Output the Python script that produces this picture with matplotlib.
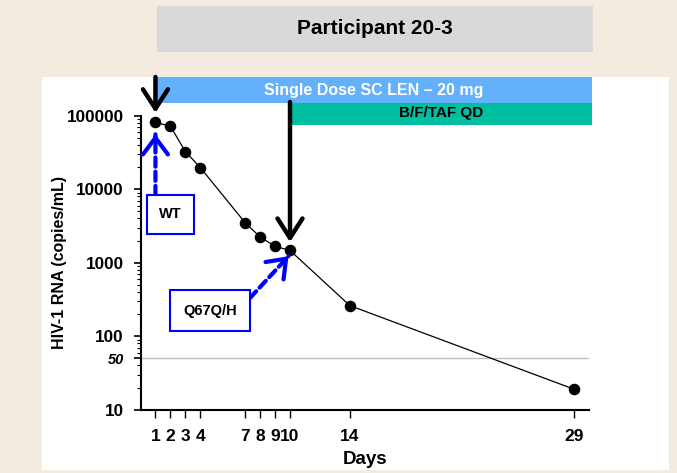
import matplotlib
matplotlib.use("Agg")
import matplotlib.pyplot as plt
import matplotlib.patches as mpatches
import matplotlib.transforms as mtrans
from matplotlib.ticker import LogLocator, NullFormatter

plt.rcParams['font.family'] = ['Liberation Sans', 'DejaVu Sans']

# ---- data ----
days = [1, 2, 3, 4, 7, 8, 9, 10, 14, 29]
rna = [81000, 72000, 32500, 19700, 3500, 2240, 1670, 1470, 261, 19]
xtick_days = [1, 2, 3, 4, 7, 8, 9, 10, 14, 29]
ytick_vals = [10, 50, 100, 1000, 10000, 100000]
ytick_labels = ['10', '50', '100', '1000', '10000', '100000']
title = "Participant 20-3"
band1_label = "Single Dose SC LEN \u2013 20 mg"
band2_label = "B/F/TAF QD"
lod = 50
wt_day, q67_day = 1, 10
lenj_day, bftaf_day = 1, 10

W, H = 677, 473
fig = plt.figure(figsize=(W / 100, H / 100), dpi=100)
fig.patch.set_facecolor('#F3EBDF')

def fx(px):
    return px / W

def fy(py):
    return 1 - py / H

# white panel
fig.patches.append(mpatches.Rectangle((fx(42), fy(470)), fx(669) - fx(42), fy(77) - fy(470),
                                      transform=fig.transFigure, facecolor='white', edgecolor='none', zorder=-2))
# title box
fig.patches.append(mpatches.Rectangle((fx(157), fy(52)), fx(593) - fx(157), fy(6) - fy(52),
                                      transform=fig.transFigure, facecolor='#D9D9D9', edgecolor='none', zorder=-2))
fig.text(fx(375), fy(29), title, ha='center', va='center', fontsize=15, fontweight='bold')

ax = fig.add_axes([fx(140.5), fy(409.7), fx(589) - fx(140.5), fy(115.7) - fy(409.7)])
ax.set_zorder(1)
ax.set_facecolor('none')
ax.set_yscale('log')
ax.set_xlim(0, 30)
ax.set_ylim(10, 100000)

for s in ['top', 'right']:
    ax.spines[s].set_visible(False)
for s in ['left', 'bottom']:
    ax.spines[s].set_linewidth(1.5)

# LOD line
ax.axhline(lod, color='#BFBFBF', lw=1, zorder=1)

ax.plot(days, rna, color='black', lw=0.9, marker='o', ms=7.3, zorder=3)

ax.set_xticks(xtick_days)
ax.set_xticklabels([str(d) for d in xtick_days], fontsize=12.5, fontweight='bold')
ax.set_yticks(ytick_vals)
ax.set_yticklabels(ytick_labels, fontsize=12.3, fontweight='bold')
for lbl in ax.get_yticklabels():
    if lbl.get_text() == '50':
        lbl.set_fontstyle('italic')
        lbl.set_fontsize(10.5)
ax.yaxis.set_minor_locator(LogLocator(base=10, subs=[2, 3, 4, 5, 6, 7, 8, 9]))
ax.yaxis.set_minor_formatter(NullFormatter())
ax.tick_params(axis='y', which='major', direction='out', length=5, width=1.2, pad=7)
ax.tick_params(axis='y', which='minor', direction='out', length=3, width=0.8)
ax.tick_params(axis='x', which='major', direction='out', length=6, width=1.0, pad=8)

ax.set_xlabel('Days', fontsize=13.5, fontweight='bold', labelpad=5)
ax.set_ylabel('HIV-1 RNA (copies/mL)', fontsize=11.5, fontweight='bold', labelpad=0)

# bands: x in data, y in figure
bt = mtrans.blended_transform_factory(ax.transData, fig.transFigure)
x_end = 30.2
ax.add_patch(mpatches.Rectangle((lenj_day + 0.05, fy(102.7)), x_end - lenj_day - 0.05, fy(77) - fy(102.7),
                                transform=bt, facecolor='#64B0FA', edgecolor='none', clip_on=False, zorder=2))
ax.add_patch(mpatches.Rectangle((bftaf_day, fy(124.7)), x_end - bftaf_day, fy(102.7) - fy(124.7),
                                transform=bt, facecolor='#00BFA0', edgecolor='none', clip_on=False, zorder=2))
ax.text(15.6, fy(90), band1_label, transform=bt, ha='center', va='center',
        color='white', fontsize=11.5, fontweight='bold', clip_on=False, zorder=4)
ax.text((bftaf_day + x_end) / 2, fy(113.5), band2_label, transform=bt, ha='center', va='center',
        color='black', fontsize=11, fontweight='bold', clip_on=False, zorder=4)

# black arrows
black_style = dict(arrowstyle='->,head_length=0.7,head_width=0.45', lw=3.2, color='black',
                   mutation_scale=20, shrinkA=0, shrinkB=0)
ax.annotate('', xy=(lenj_day, rna[days.index(lenj_day)] * 1.35), xycoords='data',
            xytext=(lenj_day, fy(77)), textcoords=bt,
            arrowprops=black_style, zorder=5, annotation_clip=False)
ax.annotate('', xy=(bftaf_day, rna[days.index(bftaf_day)] * 1.3), xycoords='data',
            xytext=(bftaf_day, fy(102)), textcoords=bt,
            arrowprops=black_style, zorder=5, annotation_clip=False)

blue = '#0000FF'
shaft_style = dict(arrowstyle='-', lw=3, color=blue, linestyle=(0, (2.2, 1.2)), shrinkA=0, shrinkB=0)
head_style = dict(arrowstyle='->,head_length=0.6,head_width=0.45', lw=3, color=blue,
                  mutation_scale=20, shrinkA=0, shrinkB=0)

def dashed_arrow(tip, start, start_coords, back):
    ax.annotate('', xy=tip, xycoords='data', xytext=start, textcoords=start_coords,
                arrowprops=shaft_style, zorder=5, annotation_clip=False)
    ax.annotate('', xy=tip, xycoords='data', xytext=back, textcoords='offset points',
                arrowprops=head_style, zorder=5, annotation_clip=False)

# WT box + blue dashed arrow
ax.text(fx(170.5), fy(214.5), 'WT', transform=fig.transFigure, ha='center', va='center',
        fontsize=10.5, fontweight='bold', zorder=6,
        bbox=dict(boxstyle='square,pad=0.85', facecolor='white', edgecolor=blue, lw=1.5))
dashed_arrow((wt_day, rna[days.index(wt_day)] / 1.45), (wt_day, fy(195)), bt, (0, -4))

# Q67Q/H box + blue dashed arrow
ax.text(fx(210), fy(310.5), 'Q67Q/H', transform=fig.transFigure, ha='center', va='center',
        fontsize=10.5, fontweight='bold', zorder=6,
        bbox=dict(boxstyle='square,pad=0.9', facecolor='white', edgecolor=blue, lw=1.5))
dashed_arrow((q67_day - 0.1, rna[days.index(q67_day)] / 1.2), (fx(250), fy(298)), 'figure fraction',
             (-2.8, -2.9))

fig.savefig('out.png', dpi=100, facecolor=fig.get_facecolor())
